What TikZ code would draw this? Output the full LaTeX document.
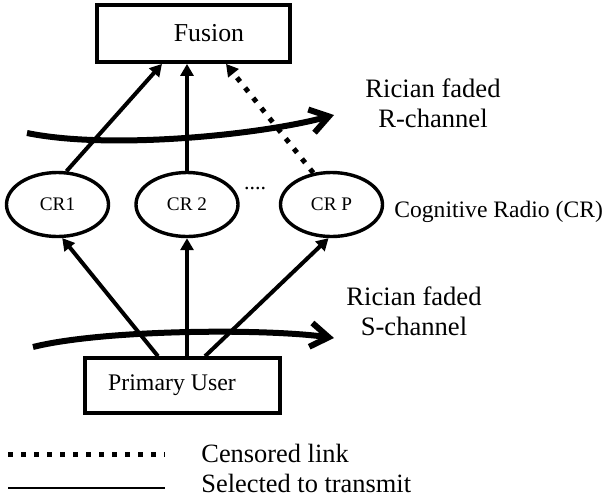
\documentclass[tikz,border=0pt]{standalone}
\usepackage{fontspec}
\setmainfont{Liberation Serif}
\usetikzlibrary{arrows.meta,shapes.geometric}

\begin{document}
\begin{tikzpicture}[x=0.5pt,y=-0.5pt,
    box/.style={draw,line width=1.9pt,inner sep=0pt},
    radio/.style={draw,ellipse,line width=1.7pt,minimum width=51pt,minimum height=32pt,inner sep=0pt,font=\fontsize{9.6}{12}\selectfont},
    link/.style={line width=2pt,-{Triangle[length=6pt,width=6.5pt]}},
    censored/.style={line width=2.5pt,dash pattern=on 2.5pt off 4pt},
    channel/.style={line width=3pt,-{Straight Barb[length=9pt,width=12pt]}},
    lbl/.style={inner sep=0pt,align=center,font=\fontsize{13.3}{15}\selectfont}]
    \useasboundingbox (0,0) rectangle (606,500);

    % boxes and radios
    \node[box,minimum width=96.5pt,minimum height=28.5pt,
        label={[xshift=7.75pt,font=\fontsize{12.9}{15}\selectfont]center:Fusion}] (fusion) at (193.5,33.5) {};
    \node[box,line width=1.75pt,minimum width=97.5pt,minimum height=27.5pt,
        label={[xshift=-5.25pt,font=\fontsize{11.9}{14}\selectfont]center:Primary User}] (pu) at (182.5,385.5) {};
    \node[radio] (cr1) at (57.5,204.5) {CR1};
    \node[radio] (cr2) at (187,204.5) {CR 2};
    \node[radio] (crp) at (331.5,204.5) {CR P};
    \node[anchor=base,inner sep=0pt,font=\fontsize{11}{13}\selectfont] (dots) at (255,189) {....};
    \node[anchor=base west,inner sep=0pt,font=\fontsize{11.8}{14}\selectfont] (crtext) at (394,217) {Cognitive Radio (CR)};

    % channels
    \coordinate (rstart) at (27,133);
    \coordinate (rend) at (334,115);
    \draw[channel] (rstart) .. controls (110,150) and (260,135) .. (rend);
    \node[lbl,anchor=base] (rlabel) at (433,127) {Rician faded\\R-channel};
    \coordinate (sstart) at (33,347);
    \coordinate (send) at (334,338);
    \draw[channel] (sstart) .. controls (100,330) and (260,328) .. (send);
    \node[lbl,anchor=base] (slabel) at (414,335) {Rician faded\\S-channel};

    % links to fusion
    \draw[link] (cr1.75) -- ([xshift=-15.75pt]fusion.south);
    \draw[link] (cr2.north) -- ([xshift=-3.25pt]fusion.south);
    \draw[link,censored] (crp.120) -- ([xshift=16.25pt]fusion.south);

    % links from primary user
    \draw[link] ([xshift=-12.25pt]pu.north) -- (cr1.-82);
    \draw[link] ([xshift=2.25pt]pu.north) -- (cr2.south);
    \draw[link] ([xshift=11.25pt]pu.north) -- (crp.-95);

    % legend
    \draw[censored] (8,454) -- (165,454);
    \draw[line width=1pt] (8,488) -- (165,488);
    \node[anchor=base west,inner sep=0pt,font=\fontsize{13.2}{15}\selectfont] (cens) at (201,462) {Censored link};
    \node[anchor=base west,inner sep=0pt,font=\fontsize{13.2}{15}\selectfont] (sel) at (201,492) {Selected to transmit};
\end{tikzpicture}
\end{document}
